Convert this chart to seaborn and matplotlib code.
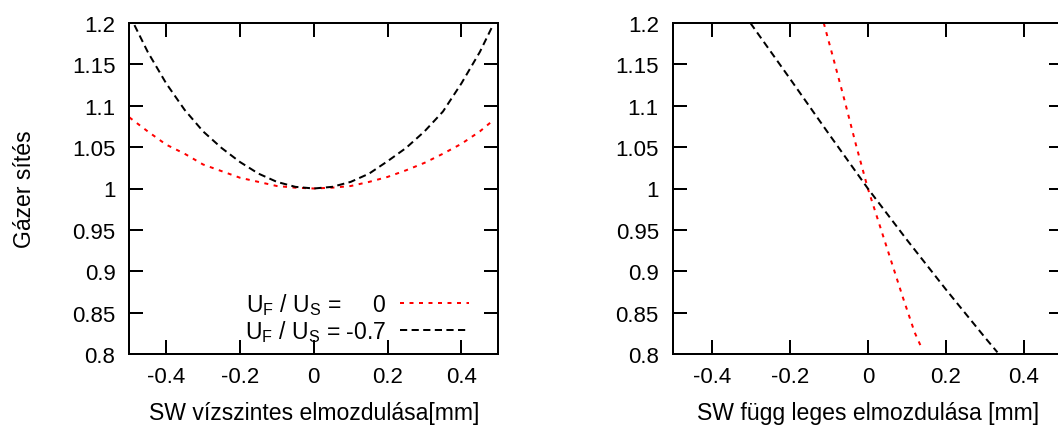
import matplotlib
matplotlib.use("Agg")
import matplotlib.pyplot as plt
import seaborn as sns

# Horizontal displacement of the SW (mm) and the resulting gain
horiz_x = [-0.50, -0.45, -0.40, -0.35, -0.30, -0.25, -0.20, -0.15, -0.10, -0.05, 0.00,
           0.05, 0.10, 0.15, 0.20, 0.25, 0.30, 0.35, 0.40, 0.45, 0.485]
horiz_gain_r0 = [1.086, 1.069, 1.053, 1.042, 1.029, 1.021, 1.013, 1.008, 1.003, 1.001, 1.000,
                 1.001, 1.003, 1.008, 1.014, 1.022, 1.031, 1.042, 1.054, 1.069, 1.082]
horiz_gain_r07 = [1.210, 1.165, 1.127, 1.095, 1.069, 1.049, 1.032, 1.018, 1.008, 1.002, 1.000,
                  1.002, 1.008, 1.018, 1.033, 1.049, 1.069, 1.093, 1.127, 1.165, 1.197]

# Vertical displacement of the SW (mm) and the resulting gain
vert_x_r0 = [-0.113, -0.09, -0.06, -0.03, 0.00, 0.03, 0.06, 0.09, 0.12, 0.139]
vert_gain_r0 = [1.200, 1.160, 1.107, 1.052, 1.000, 0.956, 0.912, 0.868, 0.826, 0.806]
vert_x_r07 = [-0.301, -0.20, -0.10, 0.00, 0.10, 0.20, 0.30, 0.332]
vert_gain_r07 = [1.200, 1.133, 1.066, 1.000, 0.938, 0.878, 0.820, 0.802]

series_labels = [r"$\mathregular{U_F}$ / $\mathregular{U_S}$ =     0",
                 r"$\mathregular{U_F}$ / $\mathregular{U_S}$ = -0.7"]

x_ticks = [-0.4, -0.2, 0.0, 0.2, 0.4]
x_tick_labels = ["-0.4", "-0.2", "0", "0.2", "0.4"]
y_ticks = [0.80, 0.85, 0.90, 0.95, 1.00, 1.05, 1.10, 1.15, 1.20]
y_tick_labels = ["0.8", "0.85", "0.9", "0.95", "1", "1.05", "1.1", "1.15", "1.2"]

sns.set_theme(style="ticks")
plt.rcParams["font.family"] = ["Liberation Sans", "DejaVu Sans"]
plt.rcParams["mathtext.fontset"] = "custom"
plt.rcParams["mathtext.rm"] = "Liberation Sans"
plt.rcParams["mathtext.it"] = "Liberation Sans"
for key in ["text.color", "axes.labelcolor", "xtick.color", "ytick.color", "axes.edgecolor"]:
    plt.rcParams[key] = "black"

TICK_FS = 16
LABEL_FS = 16.6
LW = 1.44
red_style = (0, (2.0, 2.75))
black_style = (0, (3.6, 2.2))

W, H = 1058, 427
fig = plt.figure(figsize=(W / 100, H / 100), dpi=100)
ax1 = fig.add_axes([129.3 / W, 72 / H, 369 / W, 331 / H])
ax2 = fig.add_axes([672.7 / W, 72 / H, 390.3 / W, 331 / H])

sns.lineplot(x=horiz_x, y=horiz_gain_r0, ax=ax1, color="#ff0000", linewidth=LW,
             linestyle=red_style, label=series_labels[0])
sns.lineplot(x=horiz_x, y=horiz_gain_r07, ax=ax1, color="black", linewidth=LW,
             linestyle=black_style, label=series_labels[1])
sns.lineplot(x=vert_x_r0, y=vert_gain_r0, ax=ax2, color="#ff0000", linewidth=LW,
             linestyle=red_style, legend=False)
sns.lineplot(x=vert_x_r07, y=vert_gain_r07, ax=ax2, color="black", linewidth=LW,
             linestyle=black_style, legend=False)

for ax in (ax1, ax2):
    ax.set_xlim(-0.5, 0.5)
    ax.set_ylim(0.8, 1.2)
    ax.set_xticks(x_ticks)
    ax.set_xticklabels(x_tick_labels)
    ax.set_yticks(y_ticks)
    ax.set_yticklabels(y_tick_labels)
    ax.tick_params(axis="both", direction="in", length=10, width=LW, top=True, right=True,
                   labelsize=TICK_FS, colors="black")
    ax.tick_params(axis="y", pad=10)
    ax.tick_params(axis="x", pad=9)
    for sp in ax.spines.values():
        sp.set_visible(True)
        sp.set_linewidth(LW)
        sp.set_color("black")

ax1.set_xlabel("SW vízszintes elmozdulása[mm]", fontsize=LABEL_FS, labelpad=10)
ax2.set_xlabel("SW függ leges elmozdulása [mm]", fontsize=LABEL_FS, labelpad=10)
ax1.set_ylabel("Gázer sítés", fontsize=LABEL_FS, labelpad=26)
ax2.set_ylabel("")

leg = ax1.legend(loc="lower right", bbox_to_anchor=(0.921, 0.03), frameon=False,
                 markerfirst=False, handlelength=3.0, handletextpad=0.6, borderpad=0,
                 borderaxespad=0, labelspacing=0.05, fontsize=LABEL_FS)

fig.savefig("out.png", dpi=100)
